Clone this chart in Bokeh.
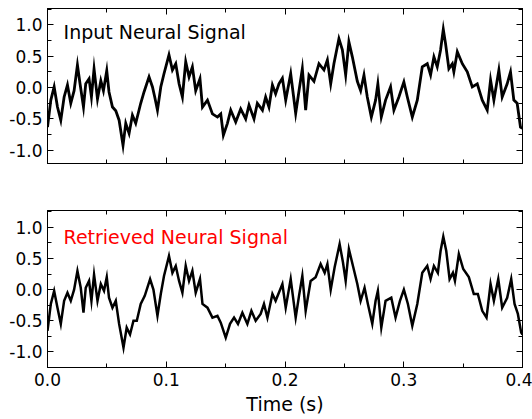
from bokeh.plotting import figure
from bokeh.layouts import column
from bokeh.models import Range1d, LinearAxis, SingleIntervalTicker, Label
from bokeh.embed import file_html
from bokeh.resources import INLINE

# ---- data ----
input_t = [0.0000, 0.0028, 0.0056, 0.0084, 0.0112, 0.0140, 0.0168, 0.0196, 0.0224, 0.0252,
           0.0274, 0.0303, 0.0322, 0.0350, 0.0370, 0.0392, 0.0421, 0.0449, 0.0471, 0.0499,
           0.0518, 0.0547, 0.0575, 0.0603, 0.0636, 0.0659, 0.0687, 0.0715, 0.0743, 0.0785,
           0.0813, 0.0855, 0.0884, 0.0903, 0.0926, 0.0954, 0.0981, 0.1023, 0.1052, 0.1080,
           0.1108, 0.1136, 0.1164, 0.1192, 0.1220, 0.1248, 0.1284, 0.1305, 0.1347, 0.1389,
           0.1431, 0.1459, 0.1481, 0.1515, 0.1543, 0.1585, 0.1627, 0.1669, 0.1697, 0.1739,
           0.1767, 0.1810, 0.1837, 0.1865, 0.1894, 0.1921, 0.1949, 0.1978, 0.2006, 0.2048,
           0.2090, 0.2118, 0.2146, 0.2174, 0.2202, 0.2244, 0.2286, 0.2328, 0.2357, 0.2385,
           0.2412, 0.2454, 0.2483, 0.2511, 0.2538, 0.2567, 0.2609, 0.2637, 0.2665, 0.2693,
           0.2727, 0.2763, 0.2782, 0.2811, 0.2847, 0.2889, 0.2917, 0.2959, 0.3001, 0.3030,
           0.3072, 0.3114, 0.3156, 0.3198, 0.3226, 0.3254, 0.3282, 0.3310, 0.3333, 0.3352,
           0.3380, 0.3409, 0.3422, 0.3451, 0.3493, 0.3535, 0.3577, 0.3619, 0.3661, 0.3703,
           0.3731, 0.3759, 0.3801, 0.3829, 0.3871, 0.3899, 0.3927, 0.3955, 0.3983, 0.4000]
input_v = [-0.63, -0.20, 0.01, -0.31, -0.52, -0.15, 0.04, -0.25, -0.05, 0.36,
           0.06, -0.31, 0.06, 0.14, -0.15, 0.30, -0.18, 0.11, -0.05, 0.27,
           -0.07, -0.31, -0.37, -0.52, -0.92, -0.57, -0.73, -0.44, -0.57, -0.25,
           -0.07, 0.17, 0.01, -0.15, -0.36, 0.01, 0.22, 0.52, 0.28, 0.38,
           0.06, -0.15, 0.41, 0.17, 0.33, -0.05, 0.14, -0.31, -0.20, -0.42,
           -0.47, -0.42, -0.76, -0.57, -0.36, -0.55, -0.34, -0.50, -0.28, -0.50,
           -0.25, -0.36, -0.15, -0.31, 0.04, -0.10, 0.06, 0.15, -0.20, 0.22,
           -0.41, -0.05, 0.30, -0.36, 0.20, 0.10, 0.38, 0.28, 0.44, 0.06,
           0.38, 0.78, 0.60, 0.20, 0.73, 0.49, 0.10, -0.05, 0.20, -0.15,
           -0.47, -0.20, 0.06, -0.47, -0.20, 0.01, -0.36, -0.15, 0.09, -0.15,
           -0.47, -0.20, 0.33, 0.38, 0.20, 0.49, 0.33, 0.60, 0.93, 0.70,
           0.30, 0.38, 0.25, 0.57, 0.38, 0.25, 0.01, 0.06, -0.20, -0.36,
           0.12, -0.20, 0.28, -0.15, 0.06, 0.25, -0.20, -0.25, -0.63, -0.65]

retrieved_t = [0.0000, 0.0028, 0.0056, 0.0084, 0.0112, 0.0140, 0.0168, 0.0196, 0.0224, 0.0252,
               0.0280, 0.0303, 0.0322, 0.0350, 0.0370, 0.0392, 0.0421, 0.0449, 0.0476, 0.0499,
               0.0518, 0.0547, 0.0575, 0.0603, 0.0640, 0.0667, 0.0695, 0.0724, 0.0752, 0.0785,
               0.0819, 0.0864, 0.0892, 0.0926, 0.0954, 0.0981, 0.1023, 0.1052, 0.1080, 0.1108,
               0.1136, 0.1164, 0.1192, 0.1220, 0.1248, 0.1284, 0.1305, 0.1347, 0.1389, 0.1431,
               0.1459, 0.1501, 0.1537, 0.1571, 0.1604, 0.1641, 0.1683, 0.1717, 0.1753, 0.1795,
               0.1823, 0.1852, 0.1894, 0.1921, 0.1978, 0.2006, 0.2048, 0.2090, 0.2118, 0.2146,
               0.2174, 0.2216, 0.2258, 0.2300, 0.2334, 0.2357, 0.2385, 0.2418, 0.2460, 0.2488,
               0.2511, 0.2538, 0.2575, 0.2609, 0.2637, 0.2670, 0.2698, 0.2735, 0.2763, 0.2782,
               0.2811, 0.2847, 0.2895, 0.2931, 0.2968, 0.3001, 0.3035, 0.3072, 0.3114, 0.3156,
               0.3198, 0.3226, 0.3254, 0.3287, 0.3310, 0.3333, 0.3358, 0.3386, 0.3414, 0.3431,
               0.3464, 0.3501, 0.3548, 0.3590, 0.3624, 0.3661, 0.3697, 0.3731, 0.3759, 0.3796,
               0.3829, 0.3871, 0.3905, 0.3933, 0.3961, 0.3989, 0.4000]
retrieved_v = [-0.66, -0.23, -0.02, -0.29, -0.55, -0.18, -0.05, -0.18, 0.00, 0.30,
               0.03, -0.37, 0.03, 0.14, -0.18, 0.24, -0.18, 0.09, -0.02, 0.20,
               -0.13, -0.29, -0.18, -0.55, -0.93, -0.61, -0.72, -0.50, -0.50, -0.23,
               -0.10, 0.17, 0.00, -0.42, -0.07, 0.22, 0.54, 0.27, 0.38, 0.14,
               -0.05, 0.38, 0.14, 0.30, -0.05, 0.17, -0.23, -0.29, -0.45, -0.42,
               -0.53, -0.77, -0.55, -0.45, -0.55, -0.37, -0.55, -0.34, -0.50, -0.39,
               -0.23, -0.45, -0.07, -0.18, 0.09, -0.29, 0.17, -0.45, -0.10, 0.22,
               -0.34, 0.14, 0.20, 0.41, 0.27, 0.41, 0.00, 0.36, 0.73, 0.44,
               0.14, 0.65, 0.36, 0.09, -0.18, 0.03, -0.23, -0.55, -0.18, -0.02,
               -0.61, -0.18, -0.13, -0.45, -0.18, 0.00, -0.23, -0.58, -0.23, 0.27,
               0.38, 0.17, 0.38, 0.27, 0.62, 0.85, 0.62, 0.17, 0.27, 0.14,
               0.57, 0.33, 0.20, -0.07, -0.07, -0.34, -0.45, 0.09, -0.18, 0.17,
               -0.29, -0.13, 0.17, -0.23, -0.39, -0.69, -0.72]

x_ticks = [0.0, 0.1, 0.2, 0.3, 0.4]
x_tick_labels = ["0.0", "0.1", "0.2", "0.3", "0.4"]
y_ticks = [-1.0, -0.5, 0.0, 0.5, 1.0]
y_tick_labels = ["-1.0", "-0.5", "0.0", "0.5", "1.0"]

FONT = "DejaVu Sans"


def style_axis(ax, labels=True, overrides=None):
    ax.axis_line_color = "black"
    ax.axis_line_width = 1
    ax.major_tick_in = 6
    ax.major_tick_out = 0
    ax.minor_tick_in = 4
    ax.minor_tick_out = 0
    ax.major_tick_line_color = "black"
    ax.minor_tick_line_color = "black"
    ax.major_label_text_font = FONT
    if labels:
        ax.major_label_text_color = "black"
        ax.major_label_text_font_size = "17px"
        ax.major_label_standoff = 5
        if overrides:
            ax.major_label_overrides = overrides
    else:
        ax.major_label_text_color = None
        ax.major_label_text_font_size = "1px"
        ax.major_label_standoff = 0


def make_panel(ts, vs, ylo, yhi, height, mb_top, mb_bottom, title, title_color,
               title_y, show_xlabels, lw):
    p = figure(width=532, height=height, output_backend="svg", toolbar_location=None,
               x_range=Range1d(0.0, 0.4), y_range=Range1d(ylo, yhi),
               min_border_left=47, min_border_right=10,
               min_border_top=mb_top, min_border_bottom=mb_bottom,
               x_axis_location=None, y_axis_location=None)
    p.grid.visible = False
    p.outline_line_color = "black"
    p.outline_line_width = 1
    p.background_fill_color = "white"
    p.border_fill_color = "white"

    xt = SingleIntervalTicker(interval=0.1, num_minor_ticks=2)
    yt = SingleIntervalTicker(interval=0.5, num_minor_ticks=2)

    bottom = LinearAxis(ticker=xt)
    style_axis(bottom, labels=show_xlabels,
               overrides=dict(zip(x_ticks, x_tick_labels)))
    if show_xlabels:
        bottom.axis_label = "Time (s)"
        bottom.axis_label_text_font = FONT
        bottom.axis_label_text_font_size = "19px"
        bottom.axis_label_text_font_style = "normal"
        bottom.axis_label_text_color = "black"
        bottom.axis_label_standoff = 4
    p.add_layout(bottom, "below")

    top = LinearAxis(ticker=SingleIntervalTicker(interval=0.1, num_minor_ticks=2))
    style_axis(top, labels=False)
    p.add_layout(top, "above")

    left = LinearAxis(ticker=yt)
    style_axis(left, labels=True, overrides=dict(zip(y_ticks, y_tick_labels)))
    p.add_layout(left, "left")

    right = LinearAxis(ticker=SingleIntervalTicker(interval=0.5, num_minor_ticks=2))
    style_axis(right, labels=False)
    p.add_layout(right, "right")

    p.line(ts, vs, line_color="black", line_width=lw, line_join="miter")

    p.add_layout(Label(x=0.0135, y=title_y, text=title, text_font=FONT,
                       text_font_size="19px", text_color=title_color,
                       text_baseline="alphabetic", text_align="left"))
    return p


p1 = make_panel(input_t, input_v, -1.21, 1.26, 198, 8, 35,
                "Input Neural Signal", "black", 0.88, False, 2.8)
p2 = make_panel(retrieved_t, retrieved_v, -1.25, 1.27, 220, 12, 51,
                "Retrieved Neural Signal", "#ff0000", 0.84, True, 2.5)

layout = column(p1, p2, spacing=0)

open("out.html", "w").write(file_html(layout, INLINE))
